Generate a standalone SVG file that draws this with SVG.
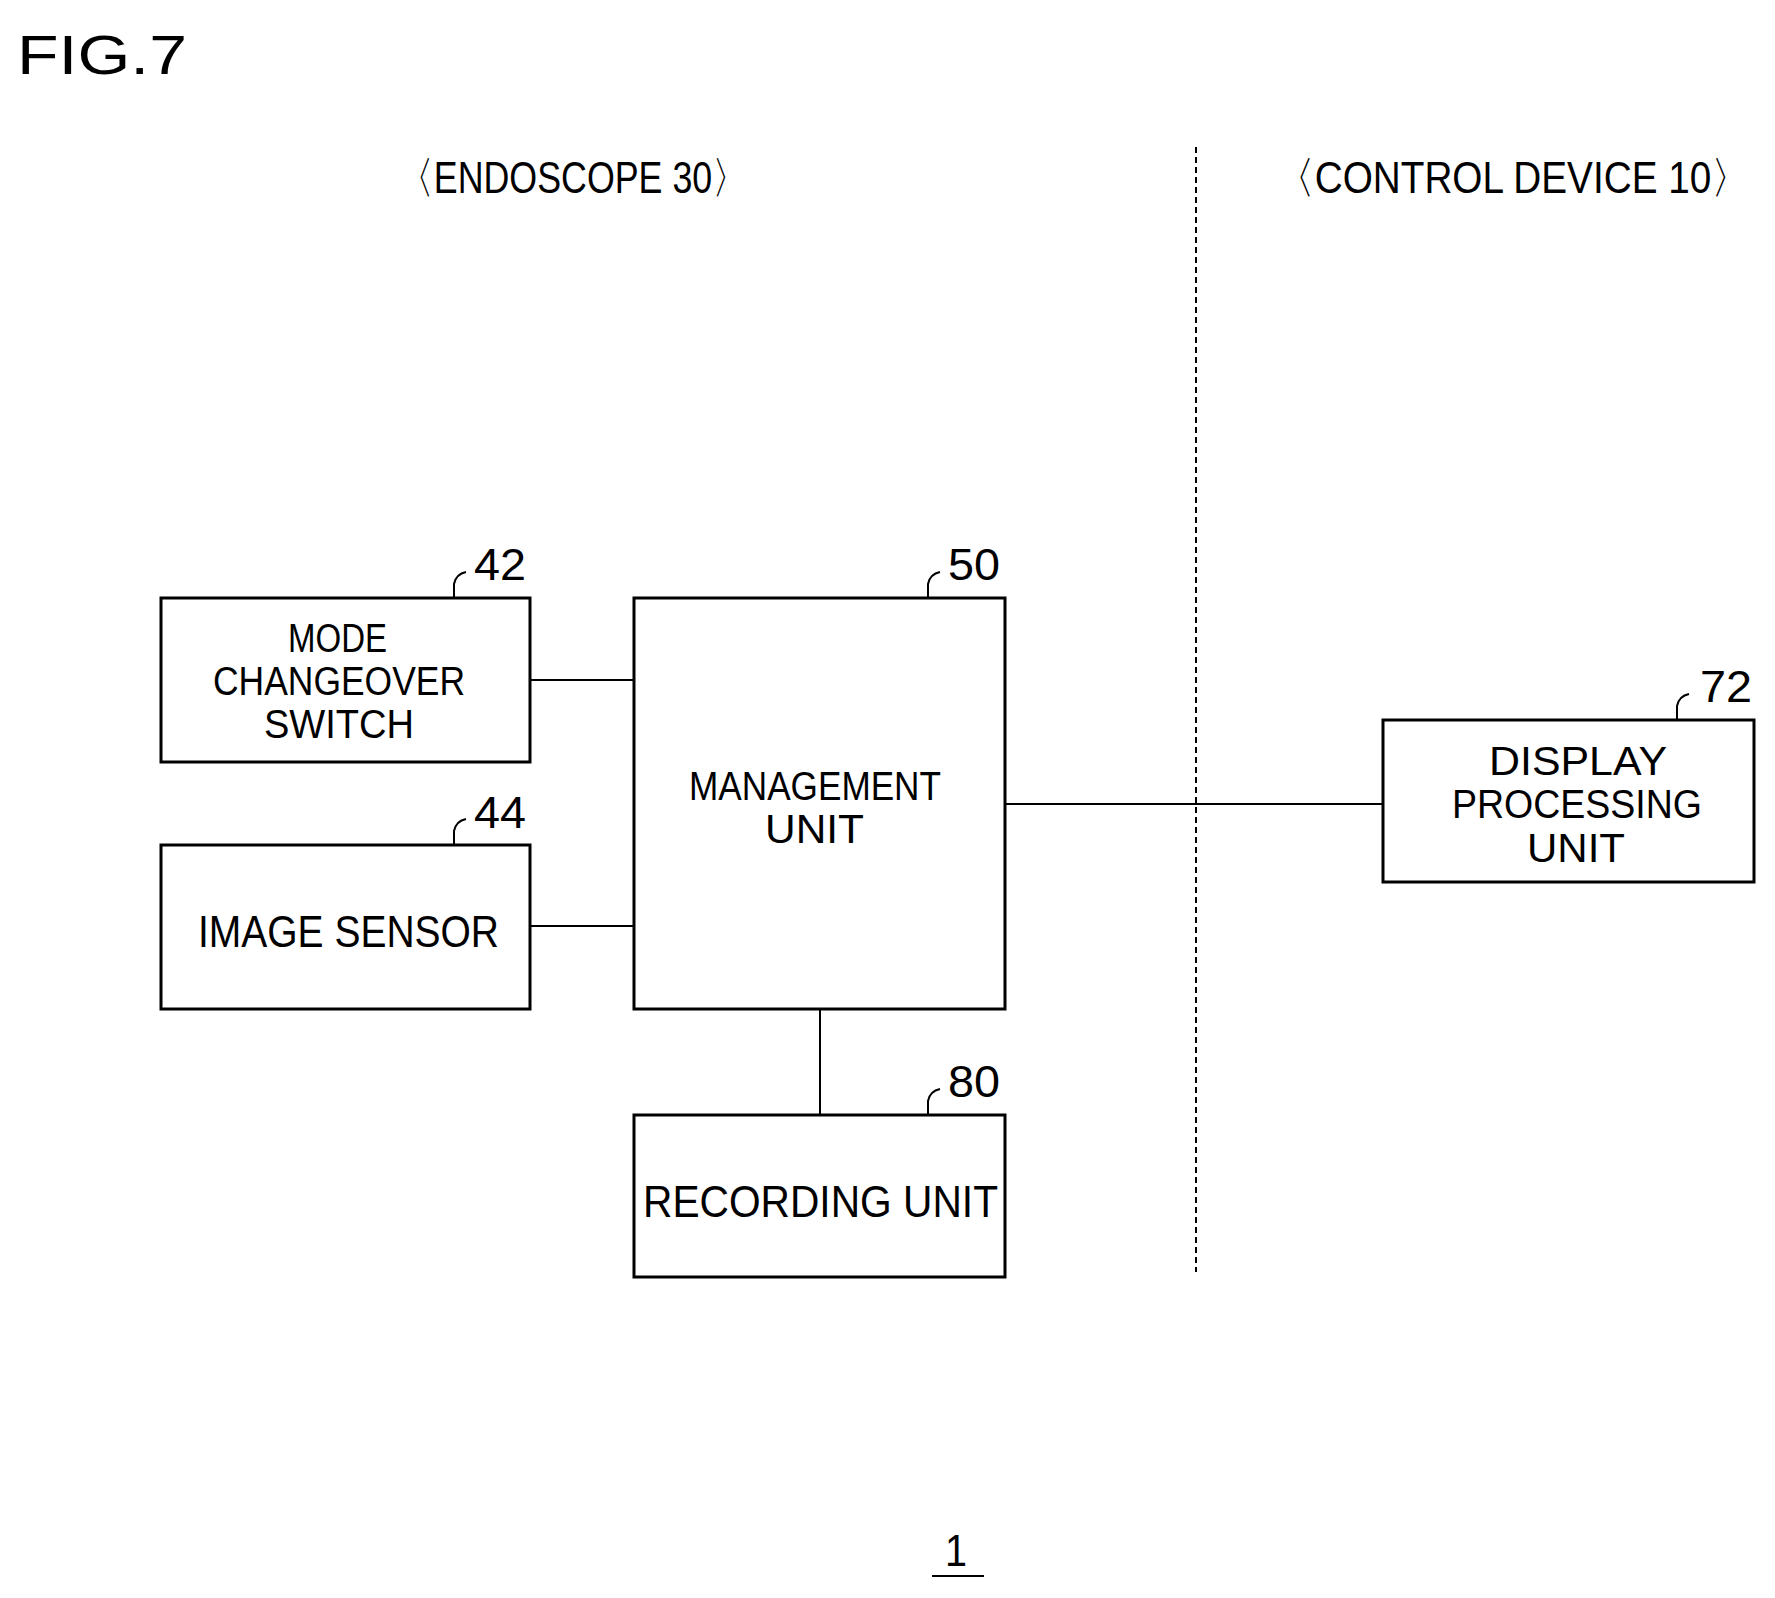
<svg xmlns="http://www.w3.org/2000/svg" width="1775" height="1598" viewBox="0 0 1775 1598">
<style>
.b{fill:none;stroke:#000;stroke-width:3}
.l{fill:none;stroke:#000;stroke-width:2}
text{font-family:"Liberation Sans",sans-serif;font-size:40px;fill:#000}
.c{text-anchor:middle}
</style>
<rect width="1775" height="1598" fill="#fff"/>
<text x="17" y="74" textLength="170" lengthAdjust="spacingAndGlyphs" style="font-size:56px">FIG.7</text>
<text x="398" y="193" textLength="350" lengthAdjust="spacingAndGlyphs" style="font-size:44px">〈ENDOSCOPE 30〉</text>
<text x="1276" y="193" textLength="474" lengthAdjust="spacingAndGlyphs" style="font-size:44px">〈CONTROL DEVICE 10〉</text>
<line class="l" x1="1196" y1="147" x2="1196" y2="1272" stroke-dasharray="6,4"/>
<g id="connectors">
<line class="l" x1="530" y1="680" x2="634" y2="680"/>
<line class="l" x1="530" y1="926" x2="634" y2="926"/>
<line class="l" x1="1005" y1="804" x2="1383" y2="804"/>
<line class="l" x1="820" y1="1009" x2="820" y2="1115"/>
</g>
<g id="n42">
<rect class="b" x="161" y="598" width="369" height="164"/>
<text x="288" y="652" textLength="99" lengthAdjust="spacingAndGlyphs">MODE</text>
<text x="213" y="695" textLength="252" lengthAdjust="spacingAndGlyphs">CHANGEOVER</text>
<text x="264" y="738" textLength="150" lengthAdjust="spacingAndGlyphs">SWITCH</text>
<path class="l" d="M454 598 V584 Q456 574 466 572"/>
<text x="474" y="580" textLength="52" lengthAdjust="spacingAndGlyphs" style="font-size:44px">42</text>
</g>
<g id="n44">
<rect class="b" x="161" y="845" width="369" height="164"/>
<text x="198" y="947" textLength="301" lengthAdjust="spacingAndGlyphs" style="font-size:44px">IMAGE SENSOR</text>
<path class="l" d="M454 845 V831 Q456 821 466 819"/>
<text x="474" y="828" textLength="52" lengthAdjust="spacingAndGlyphs" style="font-size:44px">44</text>
</g>
<g id="n50">
<rect class="b" x="634" y="598" width="371" height="411"/>
<text x="689" y="800" textLength="252" lengthAdjust="spacingAndGlyphs">MANAGEMENT</text>
<text x="765" y="843" textLength="99" lengthAdjust="spacingAndGlyphs">UNIT</text>
<path class="l" d="M928 598 V584 Q930 574 940 572"/>
<text x="948" y="580" textLength="52" lengthAdjust="spacingAndGlyphs" style="font-size:44px">50</text>
</g>
<g id="n80">
<rect class="b" x="634" y="1115" width="371" height="162"/>
<text x="643" y="1217" textLength="355" lengthAdjust="spacingAndGlyphs" style="font-size:44px">RECORDING UNIT</text>
<path class="l" d="M928 1115 V1101 Q930 1091 940 1089"/>
<text x="948" y="1097" textLength="52" lengthAdjust="spacingAndGlyphs" style="font-size:44px">80</text>
</g>
<g id="n72">
<rect class="b" x="1383" y="720" width="371" height="162"/>
<text x="1489" y="775" textLength="178" lengthAdjust="spacingAndGlyphs">DISPLAY</text>
<text x="1452" y="818" textLength="250" lengthAdjust="spacingAndGlyphs">PROCESSING</text>
<text x="1527" y="862" textLength="98" lengthAdjust="spacingAndGlyphs">UNIT</text>
<path class="l" d="M1677 720 V706 Q1679 696 1689 694"/>
<text x="1700" y="702" textLength="52" lengthAdjust="spacingAndGlyphs" style="font-size:44px">72</text>
</g>
<text x="945" y="1566" textLength="22" lengthAdjust="spacingAndGlyphs" style="font-size:44px">1</text>
<line class="l" x1="932" y1="1576" x2="984" y2="1576"/>
</svg>
